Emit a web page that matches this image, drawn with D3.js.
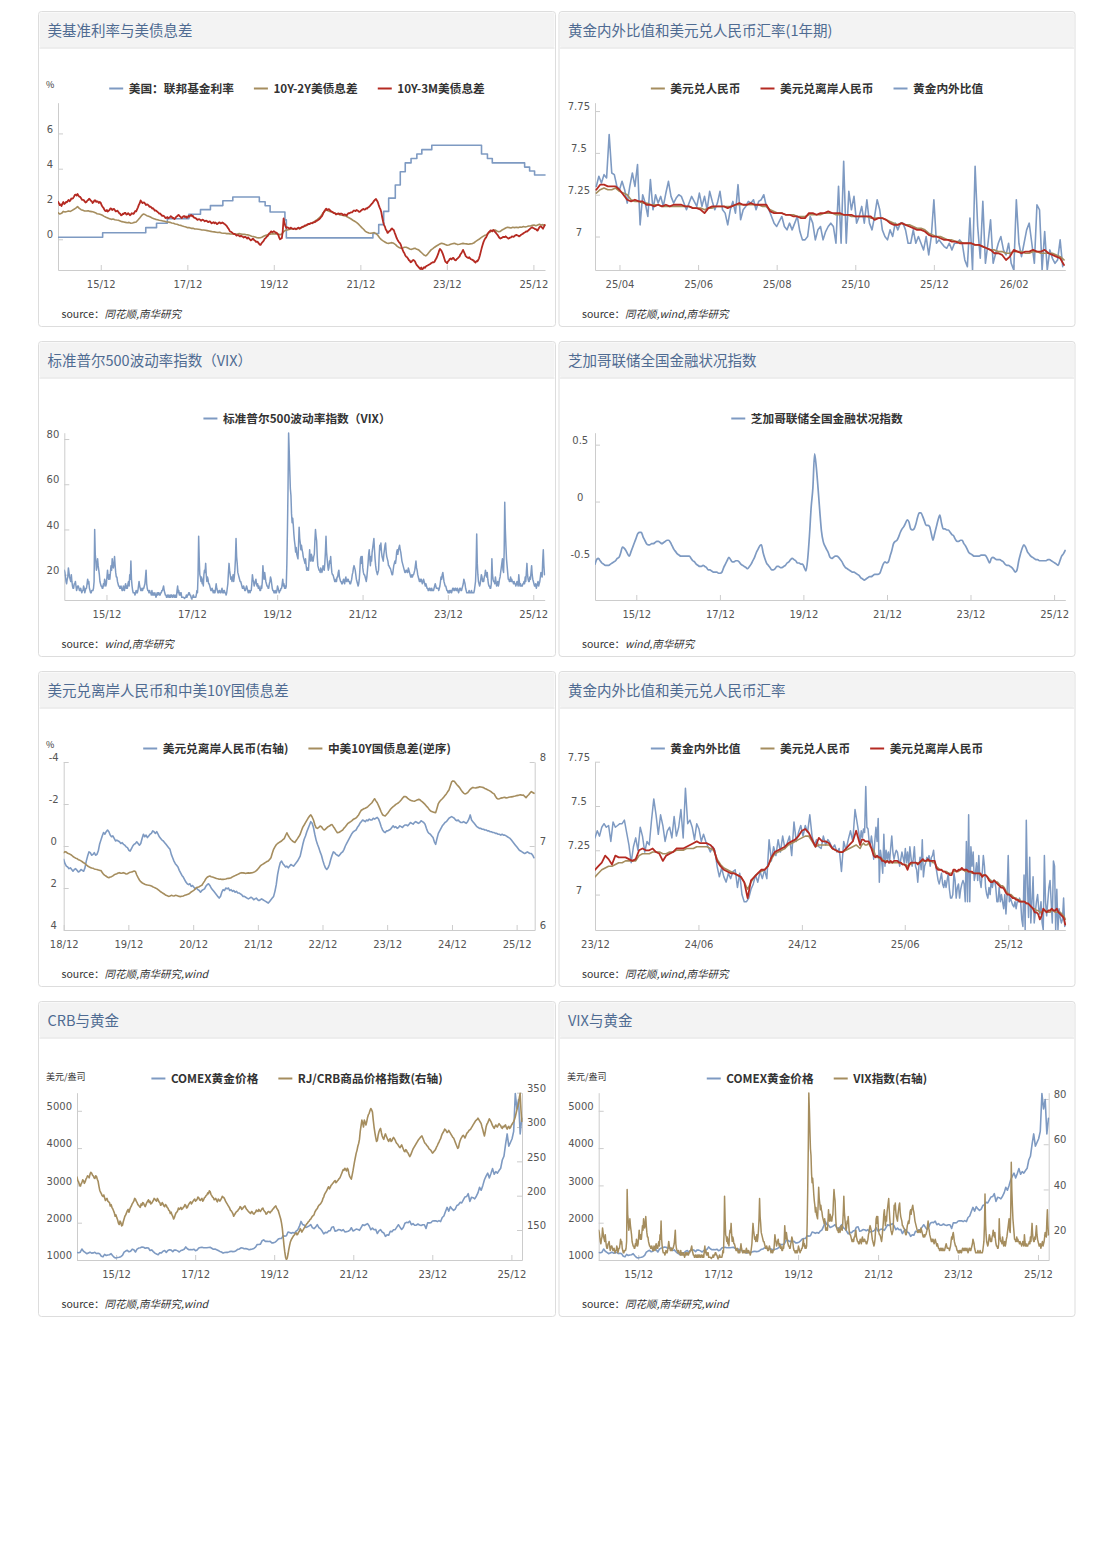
<!DOCTYPE html>
<html><head><meta charset="utf-8"><title>macro charts</title>
<script src="https://cdn.jsdelivr.net/npm/d3@7/dist/d3.min.js"></script>
<style>
html,body{margin:0;padding:0;background:#fff;}
svg{display:block;}
</style></head><body>
<svg id="chart" width="1104" height="1544"></svg>
<script>
// ===================== DATA =====================
// long series (Dec 2014 - Mar 2026)
const longStart = "2014-12-05";
const longDomain = ["2014-12-05", "2026-03-09"];

const fedDates = ["2014-12-05","2015-12-17","2016-12-15","2017-03-16","2017-06-15","2017-12-14","2018-03-22","2018-06-14","2018-09-27","2018-12-20","2019-08-01","2019-09-19","2019-10-31","2020-03-04","2020-03-16","2022-03-17","2022-05-05","2022-06-16","2022-07-28","2022-09-22","2022-11-03","2022-12-15","2023-02-02","2023-03-23","2023-05-04","2023-07-27","2024-09-19","2024-11-08","2024-12-19","2025-09-18","2025-10-30","2025-12-11","2026-03-09"];
const fedRates = [0.12,0.37,0.66,0.91,1.16,1.42,1.68,1.91,2.18,2.40,2.13,1.90,1.55,1.10,0.08,0.33,0.83,1.58,2.33,3.08,3.83,4.33,4.58,4.83,5.08,5.33,4.83,4.58,4.33,4.09,3.87,3.64,3.64];

// 10Y-2Y, 15-day step
const spread10y2y = [
1.51,1.43,1.47,1.58,1.55,1.57,1.60,1.58,1.64,1.70,
1.77,1.85,1.75,1.68,1.64,1.60,1.60,1.62,1.58,1.57,
1.55,1.51,1.45,1.43,1.40,1.36,1.30,1.25,1.21,1.17,
1.13,1.15,1.11,1.09,1.08,1.04,1.00,0.98,0.96,0.94,
0.96,0.91,0.92,0.96,0.98,1.09,1.21,1.34,1.43,1.40,
1.34,1.30,1.26,1.21,1.17,1.13,1.11,1.08,1.06,1.04,
1.02,0.98,0.98,0.96,0.92,0.91,0.87,0.85,0.81,0.79,
0.75,0.72,0.70,0.66,0.66,0.62,0.62,0.58,0.58,0.57,
0.55,0.53,0.53,0.51,0.49,0.47,0.45,0.43,0.42,0.40,
0.38,0.40,0.36,0.34,0.34,0.32,0.32,0.30,0.30,0.30,
0.28,0.30,0.32,0.30,0.28,0.28,0.26,0.25,0.21,0.17,
0.15,0.13,0.09,0.08,0.09,0.13,0.19,0.23,0.25,0.28,
0.30,0.32,0.30,0.32,0.30,0.26,0.30,0.43,0.51,0.53,
0.55,0.58,0.60,0.60,0.58,0.62,0.62,0.66,0.70,0.75,
0.79,0.85,0.89,0.91,0.98,1.06,1.13,1.21,1.32,1.47,
1.58,1.66,1.62,1.58,1.55,1.51,1.47,1.43,1.42,1.38,
1.36,1.34,1.32,1.26,1.21,1.15,1.08,1.02,0.96,0.87,
0.77,0.66,0.57,0.45,0.40,0.36,0.34,0.36,0.38,0.32,
0.23,0.09,-0.02,-0.09,-0.15,-0.21,-0.23,-0.21,-0.19,-0.23,
-0.30,-0.40,-0.47,-0.51,-0.49,-0.45,-0.45,-0.49,-0.55,-0.57,
-0.53,-0.51,-0.57,-0.60,-0.70,-0.79,-0.89,-0.94,-0.85,-0.72,
-0.60,-0.53,-0.45,-0.38,-0.32,-0.26,-0.23,-0.25,-0.30,-0.34,
-0.32,-0.28,-0.25,-0.23,-0.26,-0.30,-0.28,-0.25,-0.23,-0.25,
-0.26,-0.28,-0.26,-0.25,-0.21,-0.13,-0.06,0.00,0.08,0.15,
0.21,0.25,0.32,0.40,0.47,0.51,0.53,0.47,0.43,0.45,
0.53,0.58,0.64,0.68,0.66,0.64,0.68,0.66,0.68,0.66,
0.70,0.68,0.72,0.70,0.72,0.75,0.75,0.79,0.81,0.77,
0.81,0.85,0.81,0.83,0.79];

// 10Y-3M, 7.5-day step
const spread10y3m = [
2.13,2.05,1.94,1.98,1.89,2.02,2.11,2.00,2.04,2.12,2.09,2.18,2.23,2.15,2.21,2.31,2.30,2.33,2.42,2.52,
2.53,2.48,2.57,2.47,2.42,2.40,2.32,2.24,2.23,2.22,2.15,2.08,2.11,2.19,2.23,2.30,2.26,2.18,2.15,2.06,
2.11,2.20,2.21,2.12,2.15,2.13,2.06,2.12,2.08,1.94,1.85,1.80,1.70,1.62,1.60,1.66,1.57,1.62,1.66,1.75,
1.74,1.66,1.70,1.72,1.66,1.58,1.60,1.62,1.55,1.47,1.45,1.36,1.38,1.45,1.43,1.50,1.49,1.40,1.42,1.48,
1.43,1.36,1.40,1.48,1.45,1.44,1.51,1.60,1.58,1.70,1.81,1.95,2.04,2.20,2.13,2.05,2.08,2.09,2.02,1.94,
1.98,1.96,1.92,1.84,1.85,1.82,1.74,1.76,1.70,1.62,1.64,1.60,1.55,1.52,1.45,1.46,1.40,1.33,1.34,1.33,
1.28,1.20,1.21,1.26,1.19,1.23,1.25,1.31,1.28,1.20,1.21,1.15,1.19,1.27,1.30,1.36,1.38,1.31,1.28,1.20,
1.23,1.30,1.32,1.26,1.30,1.22,1.25,1.33,1.28,1.35,1.38,1.30,1.32,1.24,1.21,1.20,1.15,1.10,1.13,1.14,
1.11,1.05,1.09,1.11,1.08,1.02,1.04,1.06,1.02,0.97,1.00,1.02,0.96,0.90,0.94,0.97,0.91,0.95,0.92,0.86,
0.89,0.94,0.96,0.90,0.91,0.95,0.92,0.88,0.85,0.80,0.75,0.66,0.60,0.50,0.43,0.42,0.38,0.33,0.30,0.31,
0.26,0.21,0.23,0.24,0.19,0.16,0.21,0.17,0.15,0.10,0.13,0.14,0.09,0.04,0.11,0.05,0.00,-0.06,-0.04,0.03,
0.02,-0.05,-0.08,-0.15,-0.13,-0.16,-0.23,-0.30,-0.32,-0.24,-0.17,-0.12,-0.04,0.04,0.08,0.15,0.19,0.28,0.34,0.38,
0.45,0.40,0.42,0.46,0.43,0.37,0.38,0.31,0.25,0.10,0.00,0.04,0.06,0.45,1.19,0.90,0.75,0.64,0.68,0.66,
0.62,0.60,0.66,0.63,0.60,0.58,0.62,0.61,0.57,0.60,0.64,0.66,0.60,0.63,0.68,0.70,0.72,0.74,0.79,0.78,
0.81,0.85,0.87,0.86,0.89,0.92,0.91,0.95,0.96,0.97,1.00,1.05,1.06,1.10,1.13,1.18,1.25,1.30,1.40,1.52,
1.60,1.68,1.74,1.65,1.70,1.71,1.66,1.60,1.58,1.55,1.51,1.48,1.47,1.40,1.43,1.46,1.47,1.42,1.45,1.46,
1.43,1.37,1.40,1.41,1.38,1.35,1.43,1.48,1.47,1.50,1.53,1.52,1.58,1.63,1.62,1.60,1.66,1.64,1.60,1.55,
1.57,1.62,1.66,1.70,1.72,1.68,1.70,1.76,1.74,1.80,1.83,1.88,1.94,2.00,2.04,2.12,2.19,2.24,2.28,2.20,
2.11,1.95,1.81,1.70,1.53,1.25,1.00,0.82,0.72,0.56,0.49,0.36,0.40,0.47,0.49,0.57,0.62,0.56,0.53,0.38,
0.25,0.10,0.00,-0.10,-0.17,-0.22,-0.32,-0.48,-0.60,-0.72,-0.79,-0.92,-0.98,-1.02,-1.09,-1.18,-1.21,-1.30,-1.28,-1.20,
-1.17,-1.20,-1.26,-1.38,-1.47,-1.52,-1.58,-1.64,-1.68,-1.60,-1.72,-1.65,-1.58,-1.62,-1.55,-1.50,-1.49,-1.46,-1.43,-1.40,
-1.36,-1.33,-1.30,-1.31,-1.26,-1.16,-1.08,-0.95,-0.83,-0.66,-0.55,-0.60,-0.68,-0.80,-0.94,-1.10,-1.26,-1.30,-1.36,-1.25,
-1.21,-1.12,-1.09,-1.14,-1.08,-1.05,-1.13,-1.18,-1.19,-1.12,-1.08,-1.02,-0.98,-0.86,-0.79,-0.70,-0.60,-0.72,-0.83,-0.95,
-1.00,-1.04,-1.06,-1.02,-1.09,-1.13,-1.15,-1.18,-1.21,-1.28,-1.32,-1.24,-1.25,-1.18,-1.08,-0.90,-0.70,-0.50,-0.32,-0.16,
-0.04,0.05,0.11,0.22,0.34,0.40,0.45,0.50,0.49,0.45,0.53,0.48,0.42,0.36,0.30,0.24,0.15,0.08,0.04,0.07,
0.09,0.14,0.13,0.12,0.17,0.12,0.09,0.04,0.06,0.10,0.11,0.16,0.15,0.14,0.19,0.23,0.25,0.22,0.21,0.17,
0.19,0.24,0.28,0.30,0.34,0.38,0.40,0.45,0.43,0.48,0.53,0.57,0.62,0.66,0.68,0.64,0.62,0.58,0.57,0.52,
0.49,0.60,0.68,0.74,0.72,0.66,0.60,0.70,0.81];

// VIX, 5-day step
const vix = [
22,21,19,17,16,18,19,23,21,19,18,17,20,17,15,14,14,16,16,17,
15,13,14,15,15,14,13,13,14,13,12,13,13,15,14,12,13,14,14,16,
18,16,17,14,13,12,12,13,13,13,14,17,40,29,26,22,24,27,24,22,
20,17,16,15,15,14,14,16,15,18,17,15,16,19,22,19,18,20,18,21,
24,22,27,24,23,25,28,24,21,19,19,17,16,15,15,14,14,15,14,13,
13,15,14,13,15,16,14,15,14,16,17,15,20,18,26,18,15,13,12,12,
12,11,12,13,12,12,13,15,17,15,14,13,13,14,13,14,14,15,16,19,
22,16,14,13,13,12,13,12,12,11,13,11,12,11,11,12,11,10,11,12,
11,12,12,11,11,12,12,13,13,14,15,13,12,11,11,10,10,11,11,10,
10,11,10,11,11,10,10,11,11,10,10,11,10,13,15,12,13,11,12,11,
12,10,10,10,10,9.7,9.5,10,10,11,10,11,11,12,12,11,11,10,9.3,10,
10,11,10,10,10,10,11,13,12,20,37,27,20,19,17,19,16,18,15,20,
22,21,25,20,17,19,18,16,16,15,14,13,13,14,13,12,13,12,12,14,
16,14,13,12,12,13,13,12,12,13,14,12,13,12,13,12,12,11,12,14,
16,21,25,22,20,18,19,17,18,20,17,19,22,27,36,28,25,21,20,19,
18,17,17,16,15,14,14,15,14,13,13,14,15,14,13,12,13,13,12,13,
13,16,20,18,17,15,16,17,18,16,15,16,14,15,14,13,13,15,14,17,
24,20,18,21,19,17,16,15,15,14,14,16,17,19,18,16,14,13,13,12,
12,13,12,12,13,15,14,13,12,13,13,14,14,16,18,15,16,14,15,14,
15,25,40,58,82.7,75,66,58,55,47,43,45,42,38,35,33,30,32,29,28,
27,33,41,36,34,31,33,31,30,28,27,26,25,27,24,22,23,22,22,26,
31,27,26,29,28,26,26,28,29,35,40,37,35,28,24,23,22,22,21,23,
22,21,22,24,23,22,25,30,37,30,27,24,22,23,26,25,28,24,21,20,
20,19,18,17,17,18,17,19,19,21,22,19,18,17,17,16,16,17,18,17,
16,18,19,17,17,18,18,17,17,16,16,17,18,20,21,23,24,23,22,20,
18,17,16,15,16,18,22,27,28,25,28,23,21,20,20,19,18,17,19,22,
25,29,31,27,24,28,26,30,32,34,36,31,27,24,22,21,20,21,22,28,
33,31,34,30,28,27,26,29,31,33,34,30,28,27,26,24,24,23,23,22,
21,20,20,22,24,25,26,25,27,30,31,29,31,32,33,31,30,28,26,25,
24,23,22,21,21,22,22,21,21,23,22,21,20,19,19,20,19,20,20,21,
22,24,26,23,22,20,19,18,17,18,17,18,17,16,17,18,17,16,15,16,
15,14,14,13,13,14,14,13,13,14,13,13,13,14,15,16,15,14,14,14,
14,13,14,15,17,19,18,20,21,19,17,16,15,15,14,13,13,12,12,13,
12,13,13,12,13,14,14,13,13,14,14,13,13,14,13,12,13,14,14,13,
13,14,15,16,18,17,16,14,13,12,12,12,12,13,12,12,12,13,12,12,
12,12,13,15,17,24,38,25,20,17,16,15,16,18,20,19,17,18,17,19,
20,22,20,19,21,18,16,15,15,14,14,16,27,20,18,17,17,16,19,17,
15,16,17,15,16,18,19,21,23,25,27,22,21,30,52,40,33,27,24,21,
18,18,17,17,19,17,18,17,17,16,17,16,16,15,16,17,16,15,20,17,
15,16,15,15,15,16,16,17,16,19,17,21,25,20,18,17,17,19,18,21,
24,20,18,17,16,15,15,16,14,15,16,17,15,16,17,19,21,20,19,26,
31,24,20];

// Chicago Fed NFCI, 15-day step
const nfci = [
-0.55,-0.51,-0.50,-0.52,-0.54,-0.55,-0.56,-0.56,-0.56,-0.55,
-0.54,-0.53,-0.52,-0.50,-0.49,-0.45,-0.40,-0.41,-0.43,-0.46,
-0.48,-0.44,-0.40,-0.36,-0.32,-0.28,-0.27,-0.27,-0.31,-0.34,
-0.37,-0.38,-0.38,-0.37,-0.37,-0.36,-0.35,-0.35,-0.36,-0.37,
-0.36,-0.35,-0.34,-0.34,-0.36,-0.39,-0.42,-0.44,-0.46,-0.47,
-0.48,-0.48,-0.48,-0.48,-0.48,-0.48,-0.50,-0.52,-0.53,-0.55,
-0.56,-0.57,-0.57,-0.56,-0.57,-0.58,-0.60,-0.60,-0.61,-0.62,
-0.62,-0.62,-0.63,-0.63,-0.62,-0.58,-0.55,-0.52,-0.49,-0.51,
-0.53,-0.53,-0.52,-0.52,-0.53,-0.55,-0.56,-0.57,-0.58,-0.59,
-0.57,-0.55,-0.52,-0.49,-0.45,-0.42,-0.39,-0.38,-0.45,-0.50,
-0.54,-0.56,-0.58,-0.60,-0.60,-0.59,-0.57,-0.57,-0.58,-0.58,
-0.57,-0.56,-0.54,-0.53,-0.51,-0.50,-0.51,-0.52,-0.54,-0.54,
-0.55,-0.55,-0.58,-0.61,-0.50,-0.30,-0.05,0.12,0.42,0.30,
0.12,-0.08,-0.26,-0.35,-0.39,-0.42,-0.45,-0.49,-0.50,-0.49,
-0.48,-0.48,-0.49,-0.51,-0.53,-0.56,-0.58,-0.59,-0.60,-0.61,
-0.62,-0.62,-0.63,-0.64,-0.65,-0.67,-0.68,-0.69,-0.68,-0.67,
-0.66,-0.66,-0.65,-0.64,-0.64,-0.64,-0.63,-0.59,-0.55,-0.53,
-0.54,-0.53,-0.48,-0.43,-0.37,-0.35,-0.34,-0.31,-0.27,-0.24,
-0.22,-0.19,-0.16,-0.18,-0.24,-0.25,-0.24,-0.20,-0.14,-0.10,
-0.10,-0.13,-0.17,-0.21,-0.21,-0.22,-0.28,-0.34,-0.28,-0.22,
-0.16,-0.12,-0.19,-0.24,-0.24,-0.25,-0.25,-0.27,-0.29,-0.30,
-0.33,-0.35,-0.35,-0.34,-0.34,-0.37,-0.39,-0.42,-0.45,-0.46,
-0.47,-0.48,-0.48,-0.48,-0.48,-0.47,-0.47,-0.47,-0.48,-0.51,
-0.54,-0.50,-0.49,-0.50,-0.51,-0.51,-0.51,-0.52,-0.53,-0.55,
-0.56,-0.56,-0.57,-0.58,-0.60,-0.62,-0.60,-0.52,-0.46,-0.41,
-0.38,-0.40,-0.44,-0.46,-0.48,-0.49,-0.50,-0.51,-0.51,-0.52,
-0.52,-0.52,-0.52,-0.52,-0.51,-0.51,-0.52,-0.53,-0.54,-0.55,
-0.56,-0.52,-0.48,-0.46,-0.43];

// COMEX gold, 15-day step (USD/oz)
const comexGold = [
1200,1195,
1210,1295,1235,1205,1168,1190,1210,1185,1190,1205,1172,1180,1165,1100,1085,1150,1120,1135,1140,1170,1115,1070,1055,1065,
1075,1090,1125,1210,1240,1260,1220,1235,1290,1275,1215,1290,1320,1330,1350,1340,1315,1325,1320,1255,1270,1225,1185,1160,1140,
1195,1190,1235,1255,1205,1255,1275,1265,1225,1270,1265,1245,1215,1255,1265,1290,1350,1300,1275,1280,1275,1290,1250,1270,
1320,1335,1340,1330,1330,1330,1335,1340,1315,1290,1295,1275,1255,1230,1215,1185,1200,1205,1205,1225,1235,1225,1230,1250,
1285,1295,1325,1320,1300,1305,1295,1275,1285,1295,1310,1345,1415,1415,1425,1515,1540,1500,1500,1495,1500,1460,1460,1475,1515,
1560,1575,1580,1650,1640,1650,1750,1735,1715,1735,1720,1775,1810,1900,2035,1950,1935,1870,1890,1915,1950,1870,1840,1880,
1950,1870,1835,1775,1700,1740,1730,1780,1785,1880,1890,1770,1785,1815,1810,1785,1815,1755,1760,1770,1795,1865,1780,1800,
1830,1820,1795,1870,1945,1925,1950,1975,1910,1810,1855,1810,1820,1710,1780,1815,1750,1725,1635,1675,1665,1770,1755,1810,1815,
1880,1945,1880,1820,1870,1985,2010,2000,2040,1945,1975,1930,1935,1965,1940,1925,1945,1945,1845,1995,1995,2000,2045,2050,
2050,2030,2055,2030,2140,2180,2300,2410,2310,2430,2370,2330,2365,2460,2480,2545,2530,2610,2690,2700,2780,2570,2680,2670,
2640,2710,2800,2950,2870,3000,3150,3250,3330,3200,3320,3450,3300,3370,3330,3400,3460,3680,3780,4100,4380,4050,4150,4250,
4450,5460,5050,5300,4380,4800];

// RJ/CRB index, 7.5-day step
const crb = [
227,222,220,216,214,217,219,223,222,218,220,224,226,229,228,226,231,234,233,230,
229,226,225,229,228,224,221,214,208,205,203,200,199,201,197,193,195,196,192,191,
190,185,187,183,181,178,175,170,172,168,165,160,158,163,161,156,157,162,166,170,
172,175,178,180,176,180,183,185,188,190,192,196,195,192,190,187,186,184,183,188,
186,190,189,186,184,187,190,192,194,190,192,188,189,191,193,196,195,193,192,196,
194,191,190,186,187,190,188,185,184,187,186,183,182,179,178,174,176,172,170,166,
168,172,175,176,178,182,180,181,183,180,181,183,184,187,186,182,183,186,188,190,
191,188,190,192,194,195,192,193,195,198,197,194,193,195,196,192,194,197,198,200,
201,204,203,207,206,202,200,198,197,194,195,196,193,191,195,194,192,194,196,199,
198,197,195,192,190,188,186,184,182,179,178,176,174,170,172,174,176,177,178,180,
181,184,183,180,181,183,184,185,182,180,179,177,176,175,174,177,176,174,173,175,
176,179,178,177,180,178,177,179,181,182,179,177,176,173,174,176,177,176,175,177,
178,180,181,183,184,185,182,180,178,174,170,166,160,152,140,128,118,110,107,109,
115,122,128,133,136,138,140,142,143,145,146,143,144,147,148,152,150,147,149,151,
153,155,157,159,160,162,163,165,166,168,170,171,172,176,178,180,181,184,186,187,
188,190,192,196,198,202,204,206,208,211,213,210,212,215,216,218,219,221,222,219,
220,222,223,225,226,229,232,235,238,237,240,238,236,240,238,232,228,226,224,230,
236,243,250,256,262,266,272,276,282,294,302,310,306,300,310,307,303,308,314,318,
320,324,327,325,322,310,300,292,285,279,280,288,293,296,298,292,287,284,282,287,
290,287,284,281,279,282,283,279,280,283,285,283,281,278,276,275,273,271,270,272,
274,271,268,265,264,267,266,263,262,259,257,259,262,265,268,270,272,274,276,278,
280,282,283,285,286,287,284,281,278,276,275,273,272,270,268,267,266,264,262,263,
265,266,268,271,273,276,278,281,283,287,290,292,294,297,296,294,292,293,295,293,
291,289,287,285,284,281,278,275,272,269,270,276,280,283,285,287,288,286,284,287,
290,292,293,295,296,297,299,301,303,305,307,309,310,311,313,311,309,307,305,300,
296,291,287,293,300,304,306,309,312,310,308,305,302,300,298,301,303,301,300,303,
305,303,302,299,298,301,300,302,303,299,297,300,301,298,299,302,304,306,308,311,
315,320,325,330,334,343,349,325,308];

// Panel 5: Dec 2018 - Mar 2026, 7.5-day step
const p5Start = "2018-12-01";
const cnhLong = [
6.84,6.79,6.76,6.75,6.73,6.74,6.72,6.70,6.72,6.73,6.71,6.69,6.70,6.72,6.71,6.70,6.74,6.82,6.88,6.93,
6.92,6.89,6.90,6.92,6.89,6.90,6.94,7.02,7.07,7.12,7.16,7.14,7.17,7.19,7.17,7.13,7.11,7.12,7.09,7.06,
7.07,7.06,7.05,7.03,7.04,7.02,7.01,6.99,6.98,6.95,6.94,6.97,7.00,7.02,7.03,7.05,7.03,7.01,7.03,7.09,
7.14,7.11,7.13,7.10,7.12,7.14,7.15,7.18,7.17,7.15,7.17,7.14,7.11,7.09,7.07,7.06,7.04,7.02,7.00,6.98,
6.96,6.90,6.86,6.82,6.79,6.77,6.75,6.71,6.68,6.65,6.63,6.60,6.57,6.55,6.54,6.55,6.52,6.53,6.51,6.49,
6.50,6.48,6.47,6.45,6.47,6.48,6.49,6.52,6.54,6.55,6.53,6.50,6.48,6.46,6.44,6.42,6.40,6.38,6.40,6.45,
6.48,6.47,6.50,6.49,6.50,6.47,6.48,6.46,6.47,6.45,6.46,6.44,6.44,6.43,6.42,6.40,6.40,6.39,6.38,6.37,
6.38,6.39,6.38,6.36,6.37,6.38,6.36,6.35,6.36,6.37,6.36,6.35,6.34,6.33,6.32,6.34,6.36,6.38,6.40,6.46,
6.54,6.66,6.74,6.80,6.82,6.79,6.77,6.75,6.76,6.74,6.76,6.78,6.77,6.76,6.78,6.80,6.82,6.85,6.88,6.95,
7.02,7.08,7.12,7.17,7.21,7.25,7.29,7.27,7.22,7.14,7.07,7.02,6.98,6.93,6.89,6.83,6.78,6.74,6.72,6.74,
6.78,6.84,6.89,6.93,6.92,6.90,6.89,6.88,6.90,6.92,6.93,6.96,7.00,7.03,7.06,7.09,7.12,7.15,7.17,7.18,
7.19,7.22,7.24,7.27,7.29,7.31,7.30,7.29,7.31,7.30,7.32,7.31,7.31,7.33,7.32,7.33,7.34,7.32,7.28,7.23,
7.19,7.17,7.16,7.18,7.18,7.19,7.20,7.22,7.24,7.22,7.23,7.21,7.22,7.24,7.23,7.22,7.24,7.25,7.25,7.24,
7.26,7.28,7.27,7.26,7.28,7.29,7.28,7.27,7.28,7.30,7.29,7.28,7.26,7.21,7.17,7.15,7.14,7.12,7.10,7.05,
7.02,7.09,7.15,7.18,7.21,7.24,7.26,7.28,7.29,7.31,7.33,7.34,7.35,7.34,7.33,7.31,7.30,7.31,7.29,7.28,
7.28,7.29,7.28,7.27,7.29,7.32,7.37,7.31,7.29,7.27,7.25,7.23,7.22,7.21,7.21,7.20,7.20,7.19,7.19,7.18,
7.18,7.17,7.17,7.16,7.16,7.15,7.15,7.14,7.14,7.13,7.14,7.13,7.13,7.12,7.11,7.10,7.09,7.07,7.05,7.03,
7.01,6.99,6.97,6.95,6.94,6.93,6.92,6.91,6.92,6.93,6.92,6.91,6.91,6.89,6.86];
const cnUsSpread = [
0.32,0.27,0.29,0.35,0.37,0.40,0.44,0.50,0.54,0.58,0.60,0.65,0.67,0.71,0.75,0.80,0.83,0.90,0.95,0.99,
1.02,1.05,1.06,1.09,1.11,1.12,1.14,1.16,1.17,1.26,1.35,1.40,1.44,1.49,1.51,1.48,1.46,1.42,1.37,1.34,
1.32,1.29,1.27,1.30,1.29,1.27,1.30,1.33,1.32,1.28,1.25,1.24,1.22,1.19,1.21,1.38,1.51,1.62,1.70,1.75,
1.79,1.82,1.84,1.86,1.87,1.88,1.90,1.94,1.97,2.00,2.03,2.08,2.13,2.18,2.22,2.26,2.30,2.35,2.37,2.40,
2.38,2.35,2.37,2.38,2.35,2.36,2.38,2.40,2.41,2.39,2.38,2.35,2.33,2.31,2.29,2.24,2.19,2.15,2.11,2.04,
1.98,1.96,1.94,1.90,1.87,1.77,1.67,1.56,1.49,1.45,1.43,1.46,1.48,1.50,1.52,1.55,1.56,1.58,1.57,1.59,
1.59,1.58,1.57,1.55,1.54,1.53,1.51,1.47,1.44,1.41,1.38,1.35,1.32,1.29,1.27,1.28,1.29,1.31,1.29,1.28,
1.29,1.28,1.27,1.25,1.22,1.17,1.11,1.03,0.95,0.90,0.86,0.82,0.78,0.74,0.71,0.64,0.56,0.35,0.16,0.04,
-0.06,-0.12,-0.16,-0.20,-0.24,-0.30,-0.35,-0.50,-0.63,-0.50,-0.40,-0.31,-0.25,-0.20,-0.17,-0.26,-0.35,-0.45,-0.56,-0.74,
-0.90,-1.00,-1.11,-1.22,-1.33,-1.42,-1.48,-1.38,-1.24,-1.02,-0.87,-0.84,-0.89,-0.95,-0.92,-0.82,-0.76,-0.80,-0.86,-0.92,
-0.95,-1.00,-1.02,-0.92,-0.83,-0.72,-0.63,-0.64,-0.68,-0.72,-0.76,-0.85,-0.92,-1.00,-1.08,-1.12,-1.16,-1.21,-1.27,-1.30,
-1.33,-1.40,-1.48,-1.60,-1.70,-1.74,-1.78,-1.80,-1.83,-1.88,-1.94,-2.00,-2.06,-2.16,-2.25,-2.15,-2.06,-1.92,-1.78,-1.62,
-1.49,-1.45,-1.43,-1.50,-1.57,-1.66,-1.75,-1.82,-1.87,-1.92,-1.98,-2.02,-2.06,-2.12,-2.19,-2.27,-2.35,-2.36,-2.33,-2.27,
-2.22,-2.18,-2.16,-2.14,-2.13,-2.16,-2.19,-2.22,-2.21,-2.15,-2.10,-2.04,-1.98,-1.90,-1.84,-1.75,-1.68,-1.64,-1.62,-1.60,
-1.59,-1.80,-2.02,-2.12,-2.19,-2.25,-2.32,-2.40,-2.48,-2.58,-2.67,-2.86,-3.05,-3.10,-3.08,-3.00,-2.92,-2.85,-2.78,-2.68,
-2.59,-2.52,-2.48,-2.50,-2.54,-2.62,-2.70,-2.75,-2.79,-2.77,-2.76,-2.78,-2.79,-2.82,-2.81,-2.80,-2.78,-2.74,-2.71,-2.68,
-2.65,-2.61,-2.57,-2.52,-2.48,-2.37,-2.27,-2.24,-2.25,-2.28,-2.29,-2.31,-2.32,-2.29,-2.30,-2.32,-2.33,-2.34,-2.35,-2.37,
-2.38,-2.40,-2.41,-2.43,-2.44,-2.42,-2.43,-2.36,-2.30,-2.38,-2.44,-2.52,-2.59,-2.55,-2.51];

// Panel 2: one year from Mar 2025; CNY/CNH 3-day step, ratio 2-day step
const p2Start = "2025-03-14";
const cny1y = [
7.26,7.28,7.29,7.28,7.28,7.29,7.27,7.26,7.25,7.22,
7.21,7.21,7.20,7.20,7.19,7.19,7.19,7.18,7.18,7.18,
7.18,7.18,7.18,7.18,7.18,7.17,7.17,7.17,7.16,7.17,
7.17,7.18,7.18,7.18,7.18,7.18,7.19,7.19,7.19,7.19,
7.19,7.19,7.19,7.18,7.18,7.16,7.15,7.14,7.14,7.13,
7.13,7.13,7.12,7.12,7.12,7.13,7.13,7.13,7.13,7.14,
7.14,7.14,7.13,7.13,7.13,7.13,7.12,7.12,7.12,7.12,
7.12,7.11,7.11,7.11,7.11,7.10,7.09,7.08,7.07,7.08,
7.07,7.07,7.06,7.05,7.05,7.04,7.02,7.01,7.00,7.00,
6.99,6.98,6.98,6.97,6.97,6.96,6.96,6.96,6.95,6.95,
6.94,6.93,6.92,6.92,6.91,6.91,6.90,6.90,6.91,6.91,
6.91,6.90,6.90,6.91,6.91,6.90,6.90,6.90,6.90,6.89,
6.88,6.86];
const cnh1y = [
7.28,7.31,7.31,7.30,7.30,7.30,7.28,7.25,7.22,7.21,
7.22,7.21,7.21,7.19,7.19,7.18,7.19,7.18,7.19,7.18,
7.19,7.19,7.19,7.18,7.18,7.17,7.17,7.16,7.14,7.17,
7.18,7.18,7.18,7.18,7.17,7.18,7.19,7.20,7.19,7.19,
7.20,7.19,7.19,7.19,7.19,7.15,7.14,7.14,7.14,7.13,
7.13,7.12,7.12,7.11,7.11,7.14,7.14,7.13,7.14,7.14,
7.15,7.14,7.14,7.14,7.13,7.13,7.13,7.12,7.12,7.12,
7.12,7.12,7.10,7.11,7.11,7.10,7.08,7.07,7.07,7.08,
7.07,7.06,7.05,7.04,7.04,7.03,7.01,7.00,7.00,6.99,
6.98,6.98,6.97,6.97,6.96,6.96,6.96,6.96,6.95,6.95,
6.94,6.93,6.92,6.90,6.90,6.89,6.86,6.88,6.92,6.91,
6.90,6.91,6.91,6.92,6.91,6.91,6.92,6.90,6.89,6.88,
6.87,6.83];
const ratio1y = [
7.30,7.36,7.32,7.37,7.35,7.61,7.38,7.37,7.30,7.28,
7.33,7.28,7.20,7.30,7.38,7.30,7.43,7.07,7.25,7.20,
7.12,7.34,7.16,7.25,7.20,7.24,7.18,7.26,7.33,7.24,
7.20,7.23,7.25,7.24,7.20,7.16,7.20,7.24,7.21,7.18,
7.26,7.18,7.24,7.16,7.27,7.21,7.16,7.20,7.27,7.16,
7.14,7.07,7.16,7.21,7.14,7.31,7.10,7.16,7.18,7.21,
7.20,7.22,7.16,7.21,7.22,7.25,7.18,7.16,7.12,7.08,
7.06,7.09,7.12,7.06,7.04,7.08,7.04,7.08,7.12,7.03,
6.98,6.98,7.00,7.12,7.08,6.98,7.04,7.06,6.98,7.03,
7.06,7.08,7.06,6.96,7.30,6.96,7.45,6.96,7.27,7.16,
7.24,7.08,7.12,7.18,7.08,7.22,7.08,7.04,7.12,7.22,
7.16,7.04,7.00,6.98,7.04,7.00,7.08,7.04,7.08,7.08,
7.04,6.96,6.96,7.04,6.96,7.00,6.96,6.92,7.00,6.89,
7.00,7.22,6.96,6.98,6.96,6.94,6.93,6.96,6.92,6.96,
6.96,6.98,6.96,6.86,6.82,7.11,6.80,7.42,7.06,6.87,
7.21,6.84,6.96,7.10,6.84,6.90,6.96,7.00,6.92,6.89,
6.96,6.84,6.80,7.22,6.96,6.88,6.96,7.04,7.08,6.96,
6.84,7.19,7.16,6.80,7.03,6.80,6.92,6.87,6.84,6.86,
6.98,6.82];

// Panel 6 early part (Dec 2023 - Mar 2025); continues with panel 2 data
const p6Start = "2023-12-01";
const cnyEarly = [
7.10,7.12,7.14,7.15,7.16,7.16,7.17,7.18,7.18,7.19,
7.19,7.19,7.19,7.22,7.23,7.23,7.23,7.24,7.24,7.24,
7.23,7.23,7.24,7.24,7.25,7.25,7.25,7.26,7.26,7.26,
7.27,7.27,7.27,7.27,7.26,7.25,7.20,7.17,7.15,7.14,
7.13,7.12,7.11,7.10,7.07,7.03,7.07,7.10,7.12,7.13,
7.14,7.16,7.20,7.23,7.24,7.25,7.26,7.28,7.29,7.30,
7.31,7.32,7.33,7.33,7.30,7.27,7.28,7.28,7.28,7.28,
7.26,7.25,7.24,7.24,7.25,7.26,7.27,7.28];
const cnhEarly = [
7.14,7.16,7.18,7.22,7.20,7.17,7.22,7.21,7.21,7.21,
7.20,7.19,7.20,7.25,7.26,7.25,7.25,7.26,7.24,7.23,
7.19,7.22,7.23,7.24,7.26,7.26,7.26,7.27,7.28,7.29,
7.30,7.29,7.29,7.29,7.28,7.26,7.19,7.16,7.14,7.13,
7.12,7.12,7.11,7.10,7.07,6.98,7.08,7.10,7.12,7.14,
7.14,7.16,7.21,7.24,7.25,7.26,7.27,7.29,7.30,7.31,
7.33,7.36,7.37,7.35,7.31,7.27,7.32,7.30,7.30,7.29,
7.26,7.25,7.24,7.24,7.26,7.28,7.30,7.36];
const ratioEarly = [
7.32,7.36,7.33,7.38,7.40,7.38,7.39,7.30,7.41,7.38,
7.39,7.40,7.40,7.42,7.35,7.28,7.18,7.27,7.32,7.25,
7.38,7.33,7.24,7.30,7.28,7.42,7.54,7.45,7.34,7.45,
7.39,7.30,7.36,7.38,7.32,7.44,7.33,7.38,7.48,7.32,
7.60,7.40,7.42,7.38,7.31,7.40,7.37,7.30,7.34,7.30,
7.27,7.24,7.27,7.25,7.16,7.10,7.15,7.10,7.07,7.12,
7.09,7.13,7.14,7.04,7.12,7.00,6.96,6.96,6.98,7.03,
7.06,7.11,7.07,7.13,7.09,7.14,7.09,7.31,7.19,7.27,
7.22,7.31,7.24,7.33,7.26,7.29,7.33,7.22,7.41,7.30,
7.35,7.39,7.33,7.39,7.35,7.45,7.33,7.28,7.31,7.27,
7.26,7.33,7.28,7.31,7.29,7.26,7.28,7.24,7.26,7.13,
7.30,7.25,7.31,7.36,7.30,7.48];

// ===================== DRAWING =====================
const svg = d3.select("#chart");
const CJK = '"Noto Sans CJK SC","Noto Sans",sans-serif';
const NUM = '"DejaVu Sans",Verdana,sans-serif';
const C = {blue:"#7e9ac2", gold:"#a58d5e", red:"#b52a22"};
const parseDate = d3.utcParse("%Y-%m-%d");
const fmtYM = d3.utcFormat("%y/%m");
function seq(start, stepDays, vals){ const s = parseDate(start); return vals.map((v,i)=>({date:d3.utcHour.offset(s, Math.round(i*stepDays*24)), value:v})); }
function pairs(dates, vals){ return dates.map((d,i)=>({date:parseDate(d), value:vals[i]})); }
function monthTicks(dom, keep){ return d3.utcMonth.range(parseDate(dom[0]), d3.utcDay.offset(parseDate(dom[1]),1)).filter(keep); }

function frame(p){
  const g = svg.append("g");
  g.append("rect").attr("x",p.x).attr("y",p.y).attr("width",p.w).attr("height",p.h).attr("rx",3)
    .attr("fill","#fff").attr("stroke","#dddddd");
  g.append("rect").attr("x",p.x+1).attr("y",p.y+1).attr("width",p.w-2).attr("height",35).attr("rx",2).attr("fill","#f3f3f3");
  g.append("line").attr("x1",p.x+1).attr("x2",p.x+p.w-1).attr("y1",p.y+36.5).attr("y2",p.y+36.5).attr("stroke","#dedede");
  g.append("text").attr("x",p.x+9).attr("y",p.y+24.5).attr("font-family",CJK).attr("font-size",14.5)
    .attr("fill","#4f6b92").text(p.title);
  const s = g.append("text").attr("x",p.x+23).attr("y",p.y+306.5).attr("font-family",CJK).attr("font-size",10.5).attr("fill","#333");
  s.append("tspan").text("source：");
  s.append("tspan").attr("font-style","italic").text(p.source);
}

function legend(cx, cy, items){
  const lg = svg.append("g");
  let xp = 0;
  items.forEach(([name,color])=>{
    lg.append("line").attr("x1",xp).attr("x2",xp+14).attr("y1",cy).attr("y2",cy).attr("stroke",color).attr("stroke-width",2);
    const t = lg.append("text").attr("x",xp+19.5).attr("y",cy+4).attr("font-family",CJK).attr("font-size",11.7)
      .attr("font-weight","bold").attr("fill","#333").text(name);
    xp += 19.5 + t.node().getComputedTextLength() + 20;
  });
  const total = xp - 20;
  lg.attr("transform",`translate(${cx - total/2},0)`);
}

function centerLabels(axisSel, side){
  const texts = axisSel.selectAll(".tick text");
  let maxW = 0;
  texts.each(function(){ maxW = Math.max(maxW, this.getComputedTextLength()); });
  texts.attr("text-anchor","middle").attr("x", side*(5 + maxW/2)).attr("dy","-0.13em");
}

let clipN = 0;
function drawChart(c){
  const [x0,y0,x1,y1] = c.box;
  const g = svg.append("g");
  const cid = "clip" + (clipN++);
  g.append("clipPath").attr("id",cid).append("rect").attr("x",x0).attr("y",y0-1).attr("width",x1-x0+1).attr("height",y1-y0+1);
  const x = d3.scaleUtc().domain(c.xDomain.map(parseDate)).range([x0,x1]);
  const yl = d3.scaleLinear().domain(c.left.domain).range([y1,y0]);
  const yr = c.right ? d3.scaleLinear().domain(c.right.domain).range([y1,y0]) : null;

  const axes = [];
  const xa = g.append("g").attr("transform",`translate(0,${y1})`)
    .call(d3.axisBottom(x).tickValues(c.xTicks).tickFormat(fmtYM).tickSize(-5).tickSizeOuter(0).tickPadding(11.2));
  axes.push(xa);
  const la = g.append("g").attr("transform",`translate(${x0},0)`)
    .call(d3.axisLeft(yl).tickValues(c.left.ticks).tickFormat(d=>String(d)).tickSize(-5).tickSizeOuter(0).tickPadding(5));
  axes.push(la);
  let ra = null;
  if (yr){
    ra = g.append("g").attr("transform",`translate(${x1},0)`)
      .call(d3.axisRight(yr).tickValues(c.right.ticks).tickFormat(d=>String(d)).tickSize(-5).tickSizeOuter(0).tickPadding(5));
    axes.push(ra);
  }
  axes.forEach(a=>{
    a.attr("font-family",NUM).attr("font-size",10);
    a.select(".domain").attr("stroke","#cccccc");
    a.selectAll(".tick line").attr("stroke","#cccccc");
    a.selectAll(".tick text").attr("fill","#555");
  });
  centerLabels(la, -1);
  if (ra) centerLabels(ra, 1);

  const lines = g.append("g").attr("clip-path",`url(#${cid})`);
  c.series.forEach(s=>{
    const y = s.right ? yr : yl;
    lines.append("path").datum(s.data)
      .attr("fill","none").attr("stroke",s.color).attr("stroke-width",s.width||1.5)
      .attr("stroke-linejoin","round").attr("stroke-linecap","round")
      .attr("d", d3.line().x(d=>x(d.date)).y(d=>y(d.value)).curve(s.curve||d3.curveLinear));
  });

  legend(c.legendX, c.legendY, c.legend);
  if (c.unit){
    svg.append("text").attr("x",c.unit.x).attr("y",c.unit.y).attr("font-family",CJK).attr("font-size",9)
      .attr("fill","#333").text(c.unit.text);
  }
}

// ---------- panel frames ----------
const L = 38.5, R = 559, PW_L = 517, PW_R = 516, PH = 315;
const rows = [11.5, 341.5, 671.5, 1001.5];
const panels = [
  {x:L, y:rows[0], w:PW_L, h:PH, title:"美基准利率与美债息差", source:"同花顺,南华研究"},
  {x:R, y:rows[0], w:PW_R, h:PH, title:"黄金内外比值和美元兑人民币汇率(1年期)", source:"同花顺,wind,南华研究"},
  {x:L, y:rows[1], w:PW_L, h:PH, title:"标准普尔500波动率指数（VIX）", source:"wind,南华研究"},
  {x:R, y:rows[1], w:PW_R, h:PH, title:"芝加哥联储全国金融状况指数", source:"wind,南华研究"},
  {x:L, y:rows[2], w:PW_L, h:PH, title:"美元兑离岸人民币和中美10Y国债息差", source:"同花顺,南华研究,wind"},
  {x:R, y:rows[2], w:PW_R, h:PH, title:"黄金内外比值和美元兑人民币汇率", source:"同花顺,wind,南华研究"},
  {x:L, y:rows[3], w:PW_L, h:PH, title:"CRB与黄金", source:"同花顺,南华研究,wind"},
  {x:R, y:rows[3], w:PW_R, h:PH, title:"VIX与黄金", source:"同花顺,南华研究,wind"}
];
panels.forEach(frame);
const cxL = L + PW_L/2, cxR = R + PW_R/2;

const oddDec = d=>d.getUTCMonth()===11 && d.getUTCFullYear()%2===1;
const longTicks = monthTicks(longDomain, oddDec);

// series objects
const fedSeries = pairs(fedDates, fedRates);
const s2y = seq(longStart, 15, spread10y2y);
const s3m = seq(longStart, 7.5, spread10y3m);
const vixSeries = seq(longStart, 5, vix);
const nfciSeries = seq(longStart, 15, nfci);
const goldSeries = seq(longStart, 15, comexGold);
const crbSeries = seq(longStart, 7.5, crb);
const cnhLongSeries = seq(p5Start, 7.5, cnhLong);
const spreadSeries = seq(p5Start, 7.5, cnUsSpread);
const cny1ySeries = seq(p2Start, 3, cny1y);
const cnh1ySeries = seq(p2Start, 3, cnh1y);
const ratio1ySeries = seq(p2Start, 2, ratio1y);
const cnyP6 = seq(p6Start, 6, cnyEarly).concat(cny1ySeries);
const cnhP6 = seq(p6Start, 6, cnhEarly).concat(cnh1ySeries);
const ratioP6 = seq(p6Start, 4, ratioEarly).concat(ratio1ySeries);

// Panel 1
drawChart({
  box:[58,102.7,545,270], xDomain:longDomain, xTicks:longTicks,
  left:{domain:[-1.74,7.74], ticks:[0,2,4,6]},
  series:[
    {data:fedSeries, color:C.blue, curve:d3.curveStepAfter, width:1.6},
    {data:s2y, color:C.gold, width:1.6},
    {data:s3m, color:C.red, width:1.8}
  ],
  legendX:cxL, legendY:rows[0]+77,
  legend:[["美国：联邦基金利率",C.blue],["10Y-2Y美债息差",C.gold],["10Y-3M美债息差",C.red]],
  unit:{text:"%", x:46, y:88}
});

// Panel 2
const p2Domain = ["2025-03-13","2026-03-13"];
drawChart({
  box:[595,102.7,1065.3,270], xDomain:p2Domain,
  xTicks:monthTicks(p2Domain, d=>d.getUTCMonth()%2===1),
  left:{domain:[6.8,7.8], ticks:[7,7.25,7.5,7.75]},
  series:[
    {data:ratio1ySeries, color:C.blue, width:1.6},
    {data:cny1ySeries, color:C.gold, width:1.6},
    {data:cnh1ySeries, color:C.red, width:1.8}
  ],
  legendX:cxR, legendY:rows[0]+77,
  legend:[["美元兑人民币",C.gold],["美元兑离岸人民币",C.red],["黄金内外比值",C.blue]]
});

// Panel 3
drawChart({
  box:[64.3,432.7,544.7,600], xDomain:longDomain, xTicks:longTicks,
  left:{domain:[8.8,82.8], ticks:[20,40,60,80]},
  series:[{data:vixSeries, color:C.blue, width:1.5}],
  legendX:cxL, legendY:rows[1]+77,
  legend:[["标准普尔500波动率指数（VIX）",C.blue]]
});

// Panel 4
drawChart({
  box:[595,432.7,1065.3,600], xDomain:longDomain, xTicks:longTicks,
  left:{domain:[-0.865,0.605], ticks:[-0.5,0,0.5]},
  series:[{data:nfciSeries, color:C.blue, width:1.7, curve:d3.curveMonotoneX}],
  legendX:cxR, legendY:rows[1]+77,
  legend:[["芝加哥联储全国金融状况指数",C.blue]]
});

// Panel 5
const p5Domain = ["2018-12-01","2026-03-13"];
drawChart({
  box:[63.7,762,534.7,930], xDomain:p5Domain,
  xTicks:monthTicks(p5Domain, d=>d.getUTCMonth()===11),
  left:{domain:[4,-4], ticks:[-4,-2,0,2,4]},
  right:{domain:[6,8], ticks:[6,7,8]},
  series:[
    {data:cnhLongSeries, color:C.blue, right:true, width:1.6},
    {data:spreadSeries, color:C.gold, width:1.6}
  ],
  legendX:cxL, legendY:rows[2]+77,
  legend:[["美元兑离岸人民币(右轴)",C.blue],["中美10Y国债息差(逆序)",C.gold]],
  unit:{text:"%", x:46, y:748}
});

// Panel 6
const p6Domain = ["2023-12-01","2026-03-12"];
drawChart({
  box:[595,761.7,1065.3,930], xDomain:p6Domain,
  xTicks:monthTicks(p6Domain, d=>d.getUTCMonth()===5 || d.getUTCMonth()===11),
  left:{domain:[6.8,7.75], ticks:[7,7.25,7.5,7.75]},
  series:[
    {data:ratioP6, color:C.blue, width:1.5},
    {data:cnyP6, color:C.gold, width:1.6},
    {data:cnhP6, color:C.red, width:1.8}
  ],
  legendX:cxR, legendY:rows[2]+77,
  legend:[["黄金内外比值",C.blue],["美元兑人民币",C.gold],["美元兑离岸人民币",C.red]]
});

// Panel 7
drawChart({
  box:[77,1092.7,522,1260], xDomain:longDomain, xTicks:longTicks,
  left:{domain:[1000,5485], ticks:[1000,2000,3000,4000,5000]},
  right:{domain:[106.3,350], ticks:[150,200,250,300,350]},
  series:[
    {data:goldSeries, color:C.blue, width:1.6},
    {data:crbSeries, color:C.gold, right:true, width:1.6}
  ],
  legendX:cxL, legendY:rows[3]+77,
  legend:[["COMEX黄金价格",C.blue],["RJ/CRB商品价格指数(右轴)",C.gold]],
  unit:{text:"美元/盎司", x:46, y:1080}
});

// Panel 8
drawChart({
  box:[598.7,1092.7,1048.7,1260], xDomain:longDomain, xTicks:longTicks,
  left:{domain:[1000,5485], ticks:[1000,2000,3000,4000,5000]},
  right:{domain:[8.8,82.8], ticks:[20,40,60,80]},
  series:[
    {data:goldSeries, color:C.blue, width:1.6},
    {data:vixSeries, color:C.gold, right:true, width:1.5}
  ],
  legendX:cxR, legendY:rows[3]+77,
  legend:[["COMEX黄金价格",C.blue],["VIX指数(右轴)",C.gold]],
  unit:{text:"美元/盎司", x:567, y:1080}
});
</script>
</body></html>
